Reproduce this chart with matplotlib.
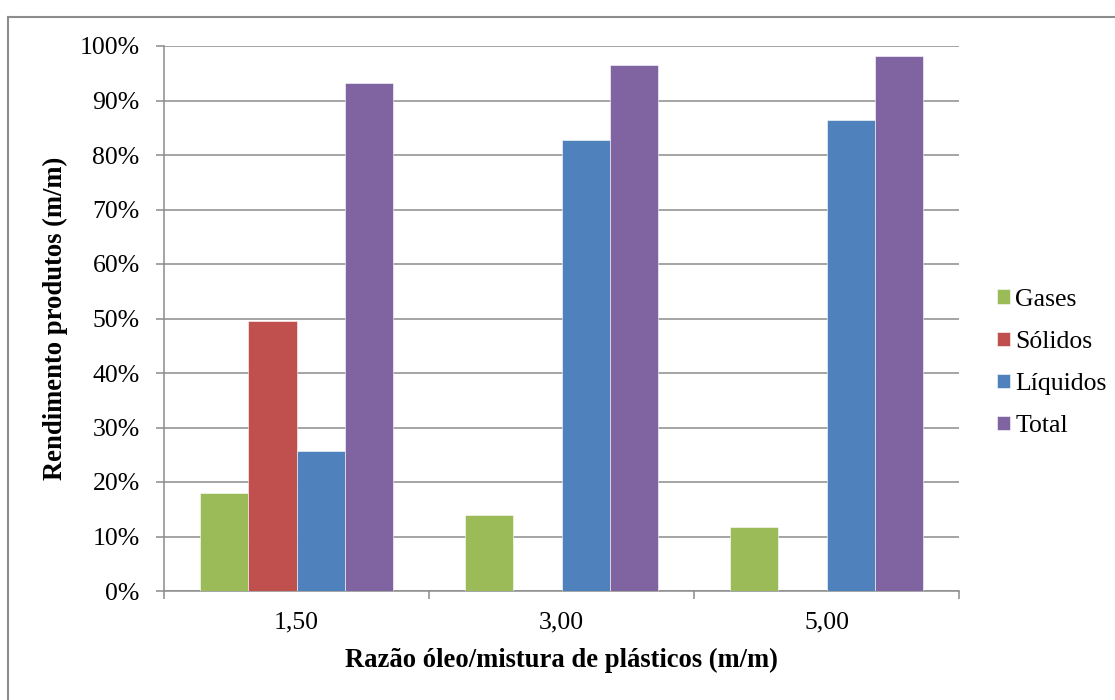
import numpy as np
import matplotlib
matplotlib.use('Agg')
import matplotlib.pyplot as plt
from matplotlib.lines import Line2D

plt.rcParams['font.family'] = ['Liberation Serif', 'DejaVu Serif']

# Product yields per oil/plastic ratio
ratios = ['1,50', '3,00', '5,00']
gases = [17.9, 13.9, 11.8]
solidos = [49.5, 0, 0]
liquidos = [25.6, 82.7, 86.4]
total = [93.2, 96.6, 98.2]

series = [
    ('Gases', gases, '#9BBB59'),
    ('Sólidos', solidos, '#C0504D'),
    ('Líquidos', liquidos, '#4F81BD'),
    ('Total', total, '#8064A2'),
]

grid_color = '#8c8c8c'
fs = 18.5
fs_label = 19.2

fig = plt.figure(figsize=(11.15, 7.0), dpi=100)
ax = fig.add_axes([164 / 1115, 1 - 591 / 700, (959 - 164) / 1115, (591 - 46) / 700])

x = np.arange(len(ratios))
width = 0.182
for i, (name, vals, color) in enumerate(series):
    offset = (i - 1.5) * width
    ax.bar(x + offset, vals, width, color=color, label=name,
           edgecolor='white', linewidth=0.4, zorder=3)

ax.set_xlim(-0.5, len(ratios) - 0.5)
ax.set_ylim(0, 100)
ax.set_yticks(np.arange(0, 101, 10))
ax.set_yticklabels([f'{v}%' for v in range(0, 101, 10)])
ax.set_xticks(x)
ax.set_xticklabels(ratios)
ax.set_xticks(np.arange(-0.5, len(ratios), 1.0), minor=True)

ax.tick_params(axis='x', which='major', length=0, pad=15, labelsize=fs)
ax.tick_params(axis='x', which='minor', length=5.5, width=1.1, color=grid_color)
ax.tick_params(axis='y', length=5.5, width=1.1, color=grid_color, pad=12, labelsize=fs)

ax.grid(axis='y', color=grid_color, linewidth=1.1, zorder=0)
ax.set_axisbelow(True)
for side in ['top', 'right']:
    ax.spines[side].set_visible(False)
for side in ['left', 'bottom']:
    ax.spines[side].set_color(grid_color)
    ax.spines[side].set_linewidth(1.1)

fig.text(561.5 / 1115, 1 - 660 / 700, 'Razão óleo/mistura de plásticos (m/m)',
         ha='center', va='center', fontsize=fs_label, fontweight='bold')
fig.text(55 / 1115, 1 - 318.5 / 700, 'Rendimento produtos (m/m)',
         ha='center', va='center', rotation=90, fontsize=fs_label, fontweight='bold')

ax.legend(loc='center left', bbox_to_anchor=(997 / 1115, 1 - 363 / 700),
          bbox_transform=fig.transFigure, frameon=False, fontsize=fs,
          handlelength=0.5, handleheight=0.5, handletextpad=0.22,
          labelspacing=0.78, borderpad=0, borderaxespad=0)

# chart area border (left and top edges)
fig.add_artist(Line2D([7.5 / 1115, 1.0], [1 - 16.5 / 700] * 2,
                      transform=fig.transFigure, color=grid_color, linewidth=1.5))
fig.add_artist(Line2D([7.5 / 1115] * 2, [0.0, 1 - 16.5 / 700],
                      transform=fig.transFigure, color=grid_color, linewidth=1.5))

fig.savefig('out.png', dpi=100)
